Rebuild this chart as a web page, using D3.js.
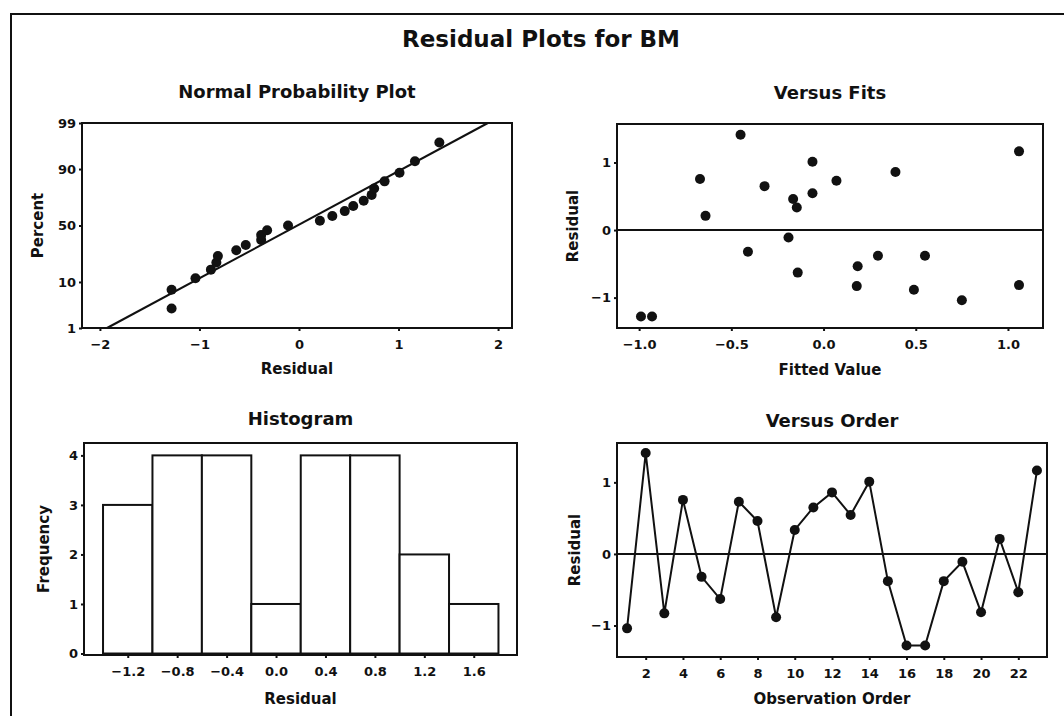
<!DOCTYPE html>
<html>
<head>
<meta charset="utf-8">
<script src="https://cdn.jsdelivr.net/npm/d3@7"></script>
<style>
  body { margin: 0; background: #fff; }
  text { font-family: "DejaVu Sans", sans-serif; font-weight: bold; fill: #111; }
</style>
</head>
<body>
<div id="chart"></div>
<script>
// residuals by observation order, and the fitted values that go with them
var residuals = [-1.04, 1.41, -0.83, 0.755, -0.32, -0.63, 0.73, 0.46, -0.885, 0.335, 0.65, 0.86,
    0.545, 1.01, -0.38, -1.28, -1.28, -0.38, -0.11, -0.815, 0.21, -0.535, 1.165];
var fitted = [0.75, -0.45, 0.18, -0.67, -0.41, -0.14, 0.07, -0.165, 0.49, -0.145, -0.32, 0.39,
    -0.06, -0.06, 0.295, -0.99, -0.93, 0.55, -0.19, 1.06, -0.64, 0.185, 1.06];

// histogram bins (midpoints) and counts
var binMids = [-1.2, -0.8, -0.4, 0.0, 0.4, 0.8, 1.2, 1.6];
var binFreq = [3, 4, 4, 1, 4, 4, 2, 1];
var binWidth = 0.4;

// tick labels
var percentTicks = [1, 10, 50, 90, 99];
var normXTicks = [-2, -1, 0, 1, 2];
var fitsXTicks = [-1.0, -0.5, 0.0, 0.5, 1.0];
var residTicks = [-1, 0, 1];
var freqTicks = [0, 1, 2, 3, 4];
var orderTicks = [2, 4, 6, 8, 10, 12, 14, 16, 18, 20, 22];

var width = 1064, height = 716;

var svg = d3.select("#chart").append("svg")
    .attr("width", width)
    .attr("height", height);

// page frame (top and left edges only)
svg.append("path")
    .attr("d", "M11,716 L11,14 L1064,14")
    .attr("fill", "none")
    .attr("stroke", "#111")
    .attr("stroke-width", 2);

svg.append("text")
    .attr("x", 541).attr("y", 47)
    .attr("text-anchor", "middle")
    .style("font-size", "23px")
    .text("Residual Plots for BM");

// inverse normal cdf (Abramowitz & Stegun 26.2.23)
function probit(p) {
    var q = p < 0.5 ? p : 1 - p;
    var t = Math.sqrt(-2 * Math.log(q));
    var z = t - (2.515517 + 0.802853 * t + 0.010328 * t * t) /
        (1 + 1.432788 * t + 0.189269 * t * t + 0.001308 * t * t * t);
    return p < 0.5 ? -z : z;
}

// draws axes and titles for one panel
function panel(box, xScale, yScale, xTicks, yTicks, xFmt, yFmt, title, xLabel, yLabel) {
    var g = svg.append("g");

    var xAxis = d3.axisBottom(xScale).tickValues(xTicks).tickFormat(xFmt)
        .tickSize(3).tickPadding(9).tickSizeOuter(0);
    var yAxis = d3.axisLeft(yScale).tickValues(yTicks).tickFormat(yFmt)
        .tickSize(3).tickPadding(3).tickSizeOuter(0);

    var xg = g.append("g")
        .attr("transform", "translate(0," + box.bottom + ")")
        .call(xAxis);
    var yg = g.append("g")
        .attr("transform", "translate(" + box.left + ",0)")
        .call(yAxis);
    [xg, yg].forEach(function (a) {
        a.select(".domain").remove();
        a.selectAll("line").attr("stroke", "#111").attr("stroke-width", 2);
        a.selectAll("text").style("font-size", "13px").attr("fill", "#111");
    });

    var cx = (box.left + box.right) / 2;
    var cy = (box.top + box.bottom) / 2;

    g.append("text")
        .attr("x", cx).attr("y", box.titleY)
        .attr("text-anchor", "middle")
        .style("font-size", "18px")
        .text(title);

    g.append("text")
        .attr("x", cx).attr("y", box.xLabelY)
        .attr("text-anchor", "middle")
        .style("font-size", "15px")
        .text(xLabel);

    g.append("text")
        .attr("transform", "translate(" + box.yLabelX + "," + cy + ") rotate(-90)")
        .attr("text-anchor", "middle")
        .style("font-size", "15px")
        .text(yLabel);

    return g;
}

function frame(g, box) {
    g.append("rect")
        .attr("x", box.left).attr("y", box.top)
        .attr("width", box.right - box.left)
        .attr("height", box.bottom - box.top)
        .attr("fill", "none")
        .attr("stroke", "#111")
        .attr("stroke-width", 2);
}

var fmt1 = d3.format(".1f");
function signed(f) {
    return function (d) { return f(d).replace("-", "\u2212"); };
}

// ---------- Normal probability plot ----------
var boxA = { left: 82, right: 512, top: 123, bottom: 328, titleY: 98, xLabelY: 374, yLabelX: 43 };
var xA = d3.scaleLinear().domain([-2.18, 2.14]).range([boxA.left, boxA.right]);
var zLo = probit(0.01), zHi = probit(0.99);
var zA = d3.scaleLinear().domain([zLo, zHi]).range([boxA.bottom, boxA.top]);
var zTicks = percentTicks.map(function (p) { return probit(p / 100); });

var gA = panel(boxA, xA, zA, normXTicks, zTicks, signed(d3.format("d")),
    function (d, i) { return percentTicks[i]; },
    "Normal Probability Plot", "Residual", "Percent");

var sorted = residuals.slice().sort(d3.ascending);
var n = sorted.length;
var normPts = sorted.map(function (r, i) {
    return { r: r, z: probit((i + 1 - 0.3) / (n + 0.4)) };
});

var mu = d3.mean(residuals), sd = d3.deviation(residuals);
gA.append("line")
    .attr("x1", xA(mu + zLo * sd)).attr("y1", zA(zLo))
    .attr("x2", xA(mu + zHi * sd)).attr("y2", zA(zHi))
    .attr("stroke", "#111").attr("stroke-width", 2);

gA.selectAll("circle.pt")
    .data(normPts)
    .enter().append("circle")
    .attr("class", "pt")
    .attr("cx", function (d) { return xA(d.r); })
    .attr("cy", function (d) { return zA(d.z); })
    .attr("r", 5)
    .attr("fill", "#111");
frame(gA, boxA);

// ---------- Versus fits ----------
var boxB = { left: 617, right: 1043, top: 124, bottom: 328, titleY: 99, xLabelY: 375, yLabelX: 578 };
var xB = d3.scaleLinear().domain([-1.12, 1.19]).range([boxB.left, boxB.right]);
var yB = d3.scaleLinear().domain([-1.45, 1.57]).range([boxB.bottom, boxB.top]);

var gB = panel(boxB, xB, yB, fitsXTicks, residTicks, signed(fmt1), signed(d3.format("d")),
    "Versus Fits", "Fitted Value", "Residual");

gB.append("line")
    .attr("x1", boxB.left).attr("x2", boxB.right)
    .attr("y1", yB(0)).attr("y2", yB(0))
    .attr("stroke", "#111").attr("stroke-width", 2);

gB.selectAll("circle.pt")
    .data(residuals)
    .enter().append("circle")
    .attr("class", "pt")
    .attr("cx", function (d, i) { return xB(fitted[i]); })
    .attr("cy", function (d) { return yB(d); })
    .attr("r", 5)
    .attr("fill", "#111");
frame(gB, boxB);

// ---------- Histogram ----------
var boxC = { left: 84, right: 517, top: 443, bottom: 655, titleY: 425, xLabelY: 704, yLabelX: 49 };
var xC = d3.scaleLinear().domain([-1.554, 1.95]).range([boxC.left, boxC.right]);
var yC = d3.scaleLinear().domain([-0.03, 4.25]).range([boxC.bottom, boxC.top]);

var gC = panel(boxC, xC, yC, binMids, freqTicks, signed(fmt1), d3.format("d"),
    "Histogram", "Residual", "Frequency");

gC.selectAll("rect.bar")
    .data(binMids)
    .enter().append("rect")
    .attr("class", "bar")
    .attr("x", function (d) { return xC(d - binWidth / 2); })
    .attr("width", function (d) { return xC(d + binWidth / 2) - xC(d - binWidth / 2); })
    .attr("y", function (d, i) { return yC(binFreq[i]); })
    .attr("height", function (d, i) { return yC(0) - yC(binFreq[i]); })
    .attr("fill", "#fff")
    .attr("stroke", "#111")
    .attr("stroke-width", 2);
frame(gC, boxC);

// ---------- Versus order ----------
var boxD = { left: 617, right: 1047, top: 443, bottom: 657, titleY: 427, xLabelY: 704, yLabelX: 580 };
var xD = d3.scaleLinear().domain([0.46, 23.54]).range([boxD.left, boxD.right]);
var yD = d3.scaleLinear().domain([-1.44, 1.55]).range([boxD.bottom, boxD.top]);

var gD = panel(boxD, xD, yD, orderTicks, residTicks, d3.format("d"), signed(d3.format("d")),
    "Versus Order", "Observation Order", "Residual");

gD.append("line")
    .attr("x1", boxD.left).attr("x2", boxD.right)
    .attr("y1", yD(0)).attr("y2", yD(0))
    .attr("stroke", "#111").attr("stroke-width", 2);

var orderLine = d3.line()
    .x(function (d, i) { return xD(i + 1); })
    .y(function (d) { return yD(d); });

gD.append("path")
    .datum(residuals)
    .attr("d", orderLine)
    .attr("fill", "none")
    .attr("stroke", "#111")
    .attr("stroke-width", 2);

gD.selectAll("circle.pt")
    .data(residuals)
    .enter().append("circle")
    .attr("class", "pt")
    .attr("cx", function (d, i) { return xD(i + 1); })
    .attr("cy", function (d) { return yD(d); })
    .attr("r", 5)
    .attr("fill", "#111");
frame(gD, boxD);
</script>
</body>
</html>
